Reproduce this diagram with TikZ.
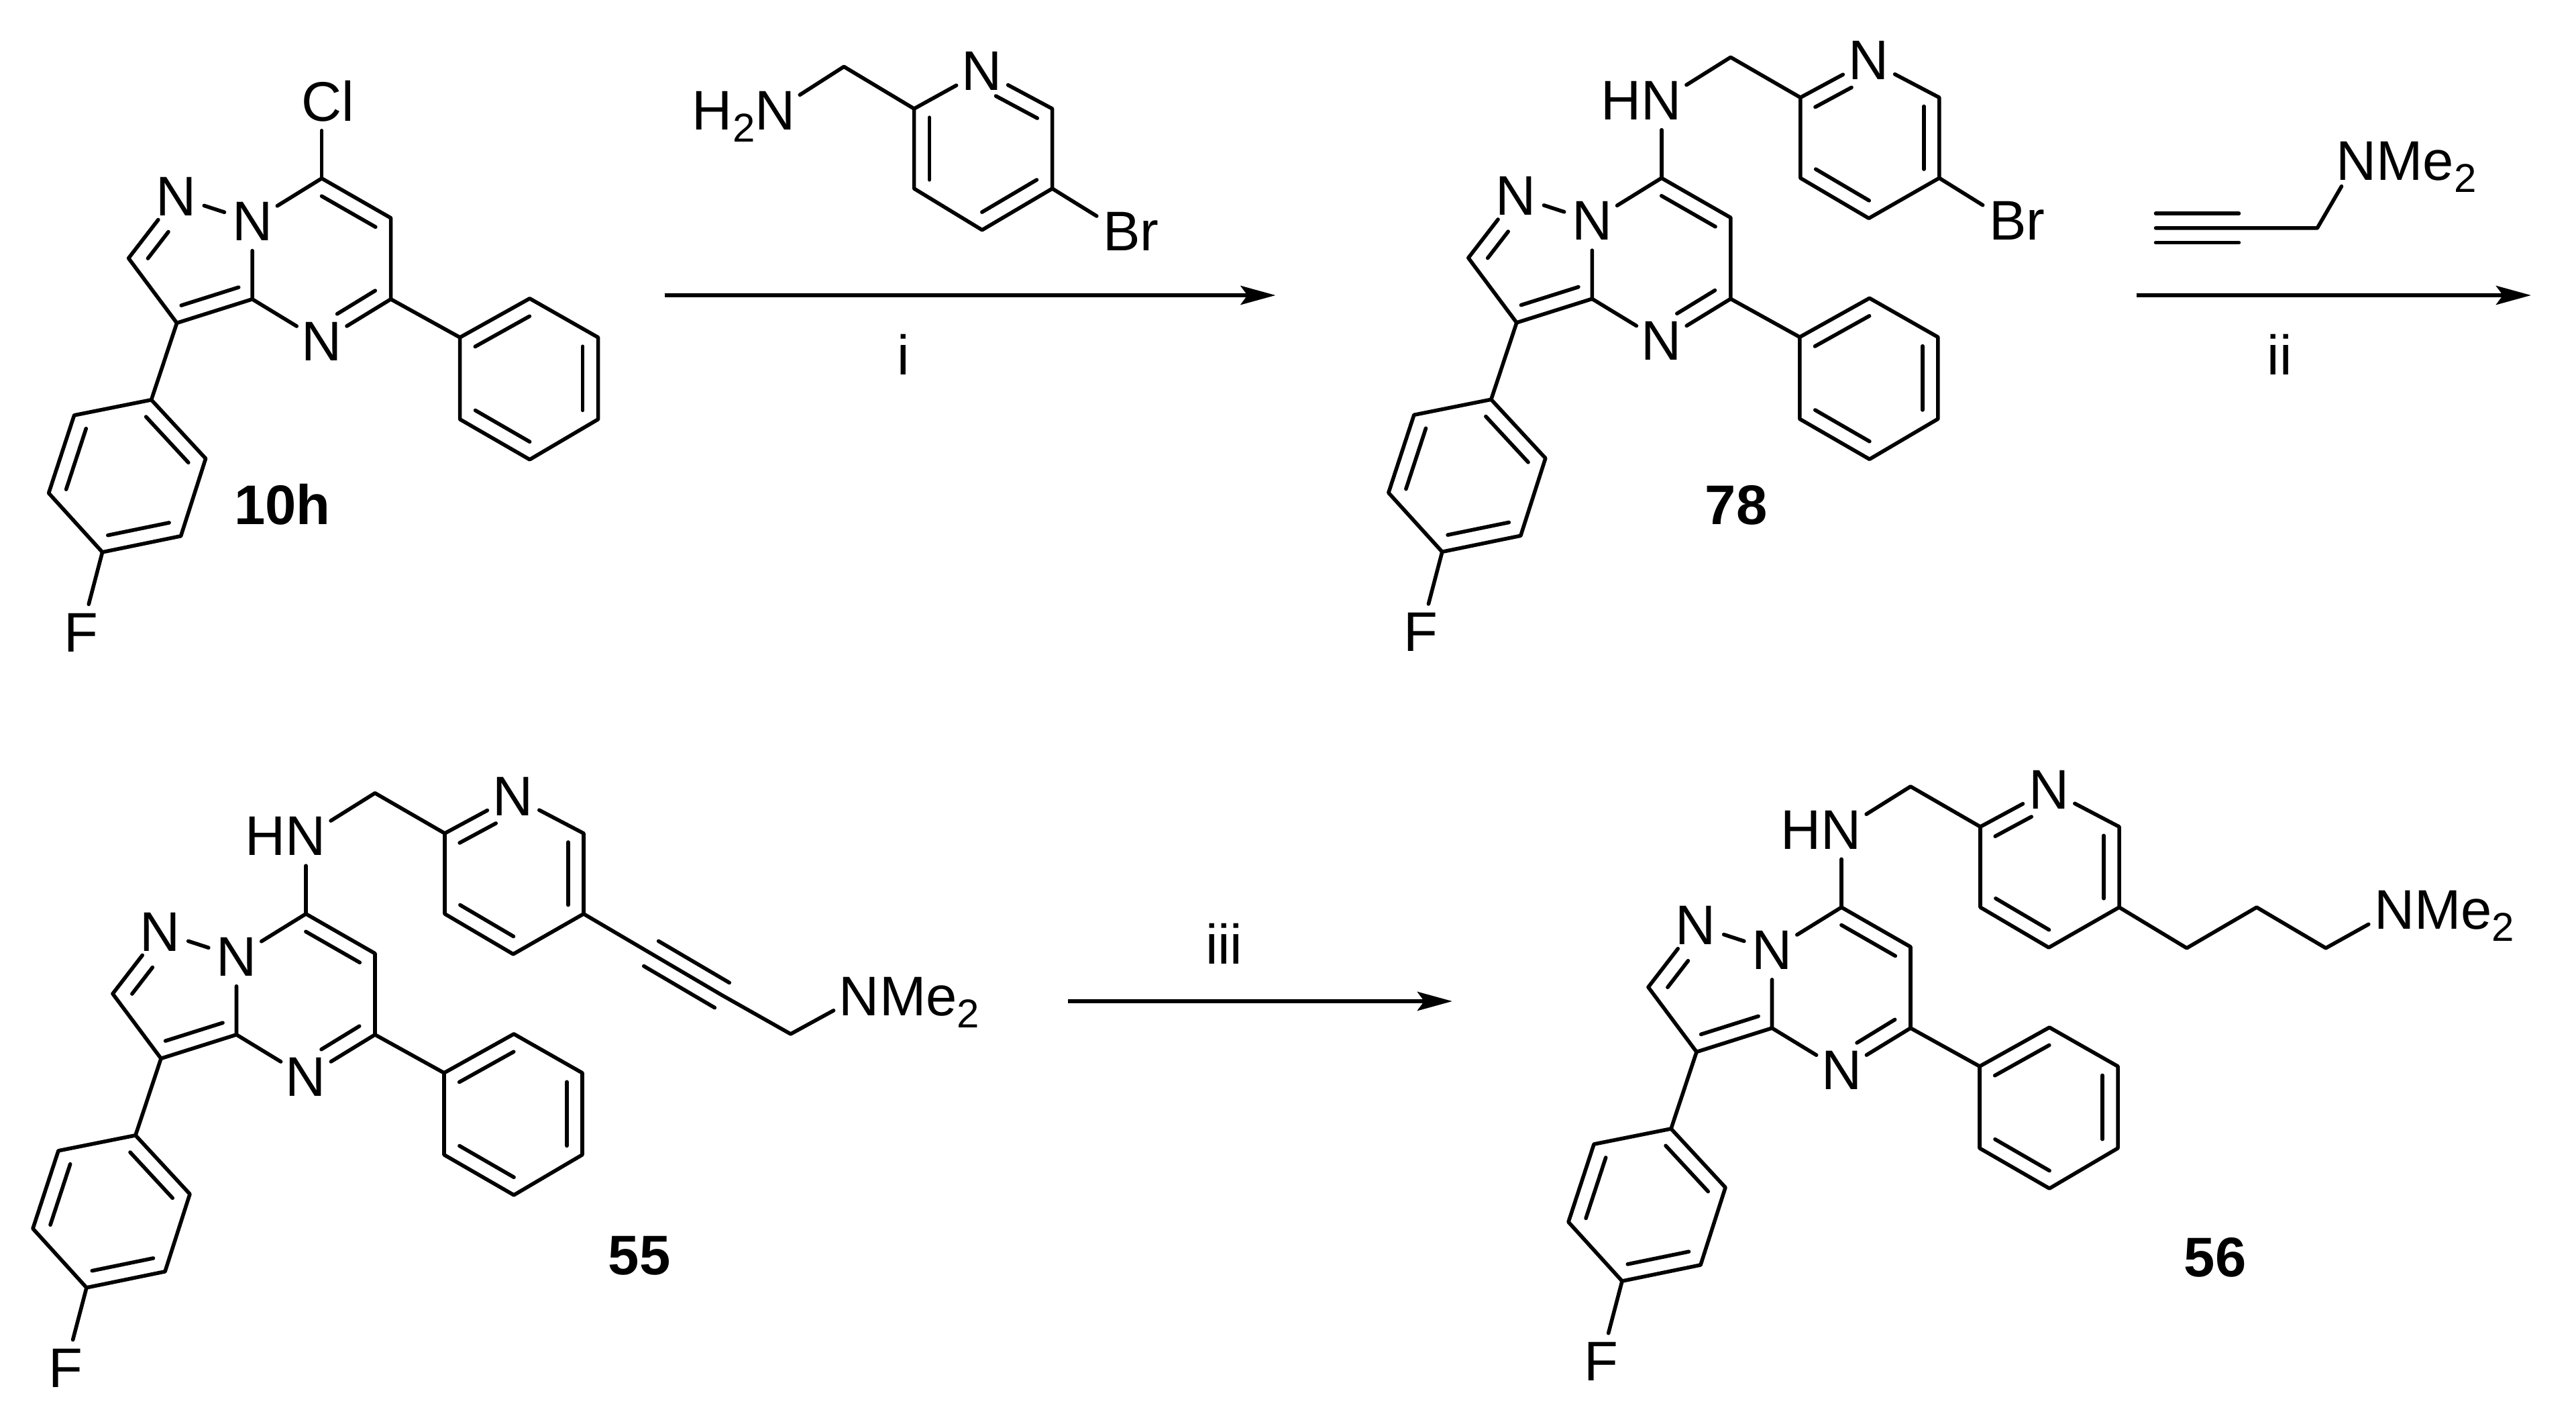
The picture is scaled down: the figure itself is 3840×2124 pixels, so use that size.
\documentclass[tikz,border=0pt]{standalone}
\usepackage{fontspec}
\setmainfont{Liberation Sans}
\usetikzlibrary{arrows.meta,calc}

\tikzset{
    bond/.style={line width=1.4pt,line cap=round,line join=round},
    atom/.style={circle,inner sep=0pt,minimum size=21.5pt,font=\fontsize{20.8pt}{20.8pt}\selectfont},
    tag/.style={inner sep=0pt,font=\fontsize{20.8pt}{20.8pt}\selectfont\bfseries},
    cond/.style={inner sep=0pt,font=\fontsize{20.8pt}{20.8pt}\selectfont},
    rxn/.style={line width=1.6pt,-{Stealth[length=13pt,width=7pt,inset=2.5pt]}}
}

% subscript digit, kept out of the height of the atom label
\newcommand{\subnum}[1]{\smash{\raisebox{-4.5pt}{\fontsize{15pt}{15pt}\selectfont #1}}}

% inner line of a double bond, on the right going from #1 to #2
\newcommand{\dbl}[4]{\draw[bond] ($(#1)!#3!(#2)!5.75pt!-90:(#2)$) -- ($(#2)!#4!(#1)!5.75pt!90:(#1)$);}

% fused rings with fluorophenyl and phenyl, origin at the carbon c7
\newcommand{\fusedcore}{
    \coordinate (c7) at (0,0);
    \coordinate (c6) at (103,59);
    \coordinate (c5) at (103,180);
    \node[atom] (n4) at (0,243) {N};
    \coordinate (c3a) at (-103.5,180);
    \node[atom] (n8) at (-103.5,64) {N};
    \node[atom] (n1) at (-217,27) {N};
    \coordinate (c2) at (-288,119);
    \coordinate (c3) at (-216,215.5);

    \coordinate (fi) at (-254,330);
    \coordinate (fo) at (-173,417.5);
    \coordinate (fm) at (-210,533);
    \coordinate (fp) at (-327,557);
    \coordinate (fn) at (-407,469);
    \coordinate (fq) at (-369,353);
    \node[atom] (f) at (-358.5,677) {F};

    \coordinate (pi) at (206,237);
    \coordinate (po) at (310,179);
    \coordinate (pm) at (412,237);
    \coordinate (pp) at (412,359);
    \coordinate (pb) at (310,419);
    \coordinate (pq) at (206,359);

    \draw[bond] (c7) -- (c6) -- (c5) -- (n4);
    \draw[bond] (n4) -- (c3a) -- (n8);
    \draw[bond] (n8) -- (c7);
    \draw[bond] (n8) -- (n1);
    \draw[bond] (n1) -- (c2) -- (c3) -- (c3a);
    \draw[bond] (c3) -- (fi);
    \draw[bond] (fi) -- (fo) -- (fm) -- (fp) -- (fn) -- (fq) -- cycle;
    \draw[bond] (fp) -- (f);
    \draw[bond] (c5) -- (pi);
    \draw[bond] (pi) -- (po) -- (pm) -- (pp) -- (pb) -- (pq) -- cycle;

    \dbl{c7}{c6}{.11}{.11}
    \dbl{c5}{n4}{.11}{.34}
    \dbl{c2}{n1}{.15}{.42}
    \dbl{c3a}{c3}{.12}{.12}
    \dbl{fi}{fo}{.11}{.11}
    \dbl{fm}{fp}{.11}{.11}
    \dbl{fn}{fq}{.11}{.11}
    \dbl{pi}{po}{.11}{.11}
    \dbl{pm}{pp}{.11}{.11}
    \dbl{pb}{pq}{.11}{.11}
}

% amine and pyridine on c7
\newcommand{\aminopy}{
    \node[atom] (nh) at (0,-115.5) {\llap{H}N};
    \coordinate (ch) at (103,-180);
    \coordinate (y2) at (207,-120);
    \node[atom] (yn) at (309,-175) {N};
    \coordinate (y6) at (414,-120);
    \coordinate (y5) at (414,0);
    \coordinate (y4) at (309,60);
    \coordinate (y3) at (207,0);

    \draw[bond] (c7) -- (nh);
    \draw[bond] (nh) -- (ch) -- (y2) -- (yn);
    \draw[bond] (yn) -- (y6) -- (y5) -- (y4) -- (y3) -- (y2);

    \dbl{y2}{yn}{.11}{.36}
    \dbl{y6}{y5}{.11}{.11}
    \dbl{y4}{y3}{.11}{.11}
}

\begin{document}
\begin{tikzpicture}[x=.25pt,y=-.25pt]

    \useasboundingbox (0,0) rectangle (3840,2124);

    % 10h
    \begin{scope}[shift={(479.6,265.8)},name prefix=a-]
        \fusedcore
        \node[atom] (cl) at (0,-115) {C\rlap{l}};
        \draw[bond] (c7) -- (cl);
    \end{scope}
    \node[tag] (labela) at (421,752) {10h};

    % bromopyridine reagent
    \begin{scope}[name prefix=r-]
        \node[atom] (nh) at (1155.4,165) {\llap{H\subnum{2}}N};
        \coordinate (ch) at (1258,99.3);
        \coordinate (y2) at (1362.6,162);
        \node[atom] (yn) at (1464,106) {N};
        \coordinate (y6) at (1568.6,162);
        \coordinate (y5) at (1568.6,281);
        \coordinate (y4) at (1464,342.7);
        \coordinate (y3) at (1362.6,281);
        \node[atom] (br) at (1672,345) {B\rlap{r}};

        \draw[bond] (nh) -- (ch) -- (y2) -- (yn);
        \draw[bond] (yn) -- (y6) -- (y5) -- (y4) -- (y3) -- (y2);
        \draw[bond] (y5) -- (br);

        \dbl{yn}{y6}{.3}{.11}
        \dbl{y5}{y4}{.11}{.11}
        \dbl{y3}{y2}{.11}{.11}
    \end{scope}

    \coordinate (ia) at (991,440);
    \coordinate (ib) at (1901.5,440);
    \draw[rxn] (ia) -- (ib);
    \node[cond] (labeli) at (1347,528) {i};

    % 78
    \begin{scope}[shift={(2476.8,265.3)},name prefix=b-]
        \fusedcore
        \aminopy
        \node[atom] (br) at (516,63.5) {B\rlap{r}};
        \draw[bond] (y5) -- (br);
    \end{scope}
    \node[tag] (labelb) at (2588,752.5) {78};

    % propargyl amine reagent
    \begin{scope}[name prefix=s-]
        \coordinate (t1) at (3213.5,339.8);
        \coordinate (t2) at (3337.4,339.8);
        \coordinate (ch) at (3454.3,339.8);
        \node[atom] (nm) at (3512.5,239.8) {N\rlap{Me\subnum{2}}};

        \draw[bond] (t1) -- (ch) -- (nm);
        \draw[bond] ([yshift=5.4pt]t1) -- ([yshift=5.4pt]t2);
        \draw[bond] ([yshift=-5.4pt]t1) -- ([yshift=-5.4pt]t2);
    \end{scope}

    \coordinate (iia) at (3185.4,440);
    \coordinate (iib) at (3773,440);
    \draw[rxn] (iia) -- (iib);
    \node[cond] (labelii) at (3398,528) {ii};

    % 55
    \begin{scope}[shift={(456,1361.8)},name prefix=c-]
        \fusedcore
        \aminopy
        \coordinate (t1) at (514.7,59.2);
        \coordinate (t2) at (620.3,121.2);
        \coordinate (ch2) at (722.6,179);
        \node[atom] (nm) at (825,123) {N\rlap{Me\subnum{2}}};

        \draw[bond] (y5) -- (t1) -- (t2) -- (ch2) -- (nm);
        \draw[bond] ($(t1)!5.4pt!-90:(t2)$) -- ($(t2)!5.4pt!90:(t1)$);
        \draw[bond] ($(t1)!5.4pt!90:(t2)$) -- ($(t2)!5.4pt!-90:(t1)$);
    \end{scope}
    \node[tag] (labelc) at (953,1871.4) {55};

    \coordinate (iiia) at (1592,1492);
    \coordinate (iiib) at (2165,1492);
    \draw[rxn] (iiia) -- (iiib);
    \node[cond] (labeliii) at (1824.7,1406.7) {iii};

    % 56
    \begin{scope}[shift={(2745,1352)},name prefix=d-]
        \fusedcore
        \aminopy
        \coordinate (k1) at (514.7,60.8);
        \coordinate (k2) at (618.9,0);
        \coordinate (k3) at (722,60.8);
        \node[atom] (nm) at (824,4) {N\rlap{Me\subnum{2}}};

        \draw[bond] (y5) -- (k1) -- (k2) -- (k3) -- (nm);
    \end{scope}
    \node[tag] (labeld) at (3302,1873.6) {56};

\end{tikzpicture}
\end{document}
